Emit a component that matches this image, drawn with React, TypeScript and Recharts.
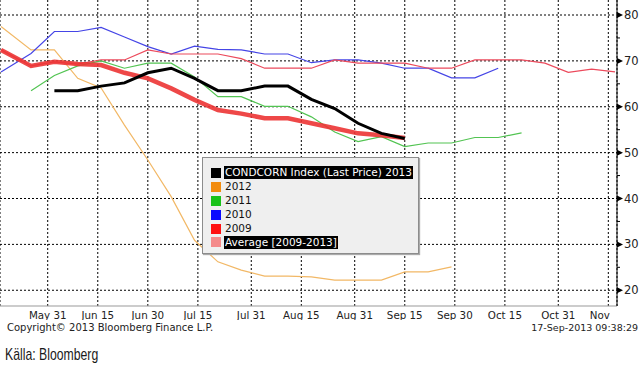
import React from "react";
import { LineChart, Line, XAxis, YAxis, CartesianGrid, Legend } from "recharts";

// days after May 31 (weekly readings)
const days = [-14, -5, 2, 9, 16, 23, 30, 37, 44, 51, 58, 65, 72, 79, 86, 93, 100, 107, 114, 121, 128, 135, 142, 149, 156, 163, 170];

const y2013 = [null, null, 63.5, 63.5, 64.5, 65.2, 67.4, 68.4, 66.2, 63.5, 63.5, 64.5, 64.5, 61.6, 59.6, 56.4, 54.2, 53.1, null, null, null, null, null, null, null, null, null];
const y2012 = [77.5, 72.4, 72.4, 66.2, 64.1, 56.0, 48.4, 40.4, 30.9, 26.2, 24.4, 23.1, 23.1, 22.9, 22.2, 22.2, 22.2, 24.0, 24.0, 25.1, null, null, null, null, null, null, null];
const y2011 = [null, 63.5, 66.8, 68.9, 70.0, 68.4, 69.5, 69.5, 66.5, 62.2, 62.2, 60.1, 60.1, 57.8, 54.5, 52.4, 53.5, 51.3, 52.1, 52.1, 53.3, 53.3, 54.3, null, null, null, null];
const y2010 = [67.6, 71.6, 76.4, 76.4, 77.3, 75.2, 73.1, 71.5, 73.2, 72.5, 72.4, 71.5, 71.5, 69.6, 70.2, 70.2, 69.5, 68.4, 68.4, 66.3, 66.3, 68.4, null, null, null, null, null];
const y2009 = [72.4, 68.9, 69.8, 69.3, 70.2, 70.2, 72.4, 71.5, 71.5, 71.5, 70.5, 68.4, 68.4, 68.4, 70.2, 69.5, 69.5, 69.5, 68.4, 68.4, 70.2, 70.2, 70.2, 69.5, 67.5, 68.2, 67.6];
const avg = [72.4, 68.9, 69.8, 69.3, 69.1, 67.4, 66.2, 64.0, 61.5, 59.3, 58.5, 57.5, 57.5, 56.4, 55.3, 54.2, 53.8, 53.2, null, null, null, null, null, null, null, null, null];

const xTicks = [0, 15, 30, 45, 61, 76, 92, 107, 122, 137, 153, 168];
const xLabels = ["May 31", "Jun 15", "Jun 30", "Jul 15", "Jul 31", "Aug 15", "Aug 31", "Sep 15", "Sep 30", "Oct 15", "Oct 31", "Nov"];
const yTicks = [20, 25, 30, 35, 40, 45, 50, 55, 60, 65, 70, 75, 80];
const yGrid = [20, 30, 40, 50, 60, 70, 80];

const legendNames = ["CONDCORN Index (Last Price) 2013", "2012", "2011", "2010", "2009", "Average [2009-2013]"];
const legendColors = ["#000000", "#f28c0f", "#19c219", "#0a0aff", "#ff1010", "#f48a8a"];
const legendDark = [true, false, false, false, false, true];

const data = days.map((d, i) => ({
  day: d,
  y2013: y2013[i],
  y2012: y2012[i],
  y2011: y2011[i],
  y2010: y2010[i],
  y2009: y2009[i],
  avg: avg[i],
}));

const font = "'DejaVu Sans', Verdana, sans-serif";

function XTick(props: any) {
  const { x, y, payload, index } = props;
  const label = xLabels[xTicks.indexOf(payload.value)] ?? "";
  const last = index === xTicks.length - 1;
  return (
    <text x={last ? x + 1.5 : x} y={y + 9.5} dy="0.35em" textAnchor={last ? "end" : "middle"} fontSize={10.3} fontFamily={font} fill="#222">
      {label}
    </text>
  );
}

function YTick(props: any) {
  const { x, y, payload } = props;
  if (payload.value % 10 !== 0) {
    return <line x1={x} x2={x + 3} y1={y} y2={y} stroke="#000" />;
  }
  return (
    <g>
      <polygon points={`${x},${y - 3} ${x + 6},${y} ${x},${y + 3}`} fill="#000" />
      <text x={x + 7} y={y} dy="0.35em" fontSize={11.5} fontFamily={font} fill="#222">
        {payload.value}
      </text>
    </g>
  );
}

function LegendBox() {
  return (
    <div
      style={{
        width: 217,
        height: 97,
        boxSizing: "border-box",
        background: "#efefef",
        border: "1px solid #8c8c8c",
        boxShadow: "1px 1px 1px #aaa",
        padding: "8px 0 0 8px",
        fontFamily: font,
        fontSize: 10.5,
      }}
    >
      {legendNames.map((n, i) => (
        <div key={n} style={{ display: "flex", alignItems: "center", height: 13.9 }}>
          <span style={{ width: 10, height: 10, background: legendColors[i], display: "inline-block", marginRight: 3 }} />
          <span
            style={{
              background: legendDark[i] ? "#000" : "transparent",
              color: legendDark[i] ? "#fff" : "#111",
              padding: "0 1px",
              lineHeight: "13px",
              whiteSpace: "nowrap",
            }}
          >
            {n}
          </span>
        </div>
      ))}
    </div>
  );
}

export default function App() {
  return (
    <div style={{ position: "absolute", left: 0, top: 0, width: 641, height: 369, background: "#fff", fontFamily: font }}>
      <LineChart width={641} height={320} data={data} margin={{ top: 0, right: 0, left: 0, bottom: 0 }}>
        <CartesianGrid stroke="#000" strokeDasharray="2 2" horizontalValues={yGrid} />
        <XAxis
          dataKey="day"
          type="number"
          domain={[-14.3, 170.6]}
          ticks={xTicks}
          allowDataOverflow
          height={14}
          tickSize={0}
          tickMargin={0}
          tickLine={false}
          axisLine={{ stroke: "#999" }}
          tick={<XTick />}
          interval={0}
        />
        <YAxis
          orientation="right"
          type="number"
          domain={[16.57, 83.27]}
          ticks={yTicks}
          allowDataOverflow
          width={24}
          tickSize={0}
          tickMargin={0}
          tickLine={false}
          axisLine={{ stroke: "#000" }}
          tick={<YTick />}
          interval={0}
        />
        <Legend
          layout="vertical"
          align="center"
          verticalAlign="middle"
          content={<LegendBox />}
          wrapperStyle={{ position: "absolute", left: 202, top: 157, width: 217, height: 97 }}
        />
        <Line dataKey="y2012" name="2012" stroke="#f2b866" strokeWidth={1.2} dot={false} activeDot={false} isAnimationActive={false} />
        <Line dataKey="y2010" name="2010" stroke="#4545e6" strokeWidth={1.2} dot={false} activeDot={false} isAnimationActive={false} />
        <Line dataKey="y2009" name="2009" stroke="#ec4a5c" strokeWidth={1.2} dot={false} activeDot={false} isAnimationActive={false} />
        <Line dataKey="y2011" name="2011" stroke="#52c452" strokeWidth={1.2} dot={false} activeDot={false} isAnimationActive={false} />
        <Line dataKey="avg" name="Average [2009-2013]" stroke="#ec3434" strokeOpacity={0.9} strokeWidth={4.5} dot={false} activeDot={false} isAnimationActive={false} />
        <Line dataKey="y2013" name="CONDCORN Index (Last Price) 2013" stroke="#000" strokeWidth={3} dot={false} activeDot={false} isAnimationActive={false} />
      </LineChart>
      <div style={{ position: "absolute", left: 7, top: 322, fontSize: 10, color: "#222", whiteSpace: "nowrap" }}>
        Copyright© 2013 Bloomberg Finance L.P.
      </div>
      <div style={{ position: "absolute", right: 3, top: 322, fontSize: 9.5, color: "#222", whiteSpace: "nowrap" }}>
        17-Sep-2013 09:38:29
      </div>
      <div
        style={{
          position: "absolute",
          left: 5,
          top: 345,
          fontSize: 17,
          fontFamily: "'Liberation Sans Narrow', 'Liberation Sans', sans-serif",
          color: "#1a1a1a",
          whiteSpace: "nowrap",
          transform: "scaleX(0.72)",
          transformOrigin: "left center",
        }}
      >
        Källa: Bloomberg
      </div>
    </div>
  );
}
